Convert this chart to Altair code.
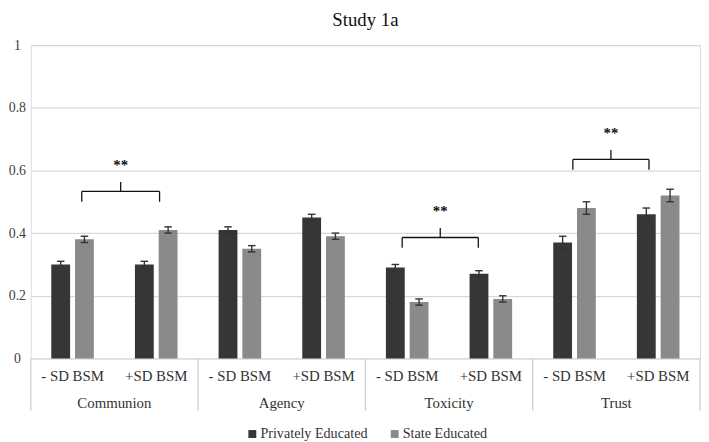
import altair as alt
import pandas as pd

categories = ["Communion", "Agency", "Toxicity", "Trust"]
levels = ["- SD BSM", "+SD BSM"]
series = ["Privately Educated", "State Educated"]
private_vals = [0.30, 0.30, 0.41, 0.45, 0.29, 0.27, 0.37, 0.46]
state_vals = [0.38, 0.41, 0.35, 0.39, 0.18, 0.19, 0.48, 0.52]
private_err = [0.01, 0.01, 0.01, 0.01, 0.01, 0.01, 0.02, 0.02]
state_err = [0.01, 0.01, 0.01, 0.01, 0.01, 0.01, 0.02, 0.02]
y_ticks = [0, 0.2, 0.4, 0.6, 0.8, 1]

# significance brackets (in sub-category slot units along x, value units along y)
bracket_from = [0.61, 4.44, 6.48]
bracket_to = [1.54, 5.35, 7.39]
bracket_level = [0.533, 0.386, 0.635]
bracket_label = ["**", "**", "**"]

FONT = "Liberation Serif, Times New Roman, DejaVu Serif, serif"
DARK = "#363636"
LIGHT = "#8a8a8a"
W, H = 677, 317

rows = []
for i in range(8):
    for s_idx, (vals, errs) in enumerate([(private_vals, private_err), (state_vals, state_err)]):
        rows.append({
            "category": categories[i // 2],
            "level": levels[i % 2],
            "slot": i,
            "side": -1 if s_idx == 0 else 1,
            "series": series[s_idx],
            "value": vals[i],
            "err": errs[i],
        })
df = pd.DataFrame(rows)

slot_df = pd.DataFrame({"slot": list(range(8)), "level": [levels[i % 2] for i in range(8)]})
cat_df = pd.DataFrame({"k": list(range(4)), "category": categories})
sep_df = pd.DataFrame({"edge": [0, 2, 4, 6, 8]})
br_df = pd.DataFrame({"x1": bracket_from, "x2": bracket_to, "lvl": bracket_level, "label": bracket_label})

xscale = alt.Scale(domain=[0, 8], nice=False, zero=False)
yscale = alt.Scale(domain=[0, 1], nice=False)

base = alt.Chart(df).transform_calculate(
    xc="datum.slot + 0.5 + datum.side * 0.142",
    xl="datum.slot + 0.5 + datum.side * 0.142 - 0.1125",
    xr="datum.slot + 0.5 + datum.side * 0.142 + 0.1125",
    lo="datum.value - datum.err",
    hi="datum.value + datum.err",
    cl="datum.slot + 0.5 + datum.side * 0.142 - 0.045",
    cr="datum.slot + 0.5 + datum.side * 0.142 + 0.045",
    zero="0",
)

bars = base.mark_bar().encode(
    x=alt.X("xl:Q", scale=xscale, axis=None),
    x2="xr:Q",
    y=alt.Y("value:Q", scale=yscale, axis=alt.Axis(
        values=y_ticks, format="~g", grid=True, gridColor="#d9d9d9", gridWidth=1.3,
        domain=False, ticks=False, labelFont=FONT, labelFontSize=14, labelColor="#404040",
        labelAlign="center", labelPadding=14, title=None)),
    y2="zero:Q",
    color=alt.Color("series:N", scale=alt.Scale(domain=series, range=[DARK, LIGHT]),
                    legend=alt.Legend(orient="none", legendX=217, legendY=386, direction="horizontal",
                                      title=None, symbolType="square", symbolSize=64,
                                      symbolStrokeWidth=0, labelFont=FONT, labelFontSize=14.3,
                                      labelColor="#333333", labelOffset=1, columnPadding=20,
                                      padding=0)),
)

err_v = base.mark_rule(color="#333333", strokeWidth=1.4).encode(
    x="xc:Q", y="lo:Q", y2="hi:Q")
cap_hi = base.mark_rule(color="#333333", strokeWidth=1.4).encode(
    x="cl:Q", x2="cr:Q", y="hi:Q")
cap_lo = base.mark_rule(color="#333333", strokeWidth=1.4).encode(
    x="cl:Q", x2="cr:Q", y="lo:Q")

sub_labels = alt.Chart(slot_df).transform_calculate(xm="datum.slot + 0.5").mark_text(
    font=FONT, fontSize=15, color="#333333", baseline="middle").encode(
    x="xm:Q", y=alt.value(H + 18), text="level:N")

cat_labels = alt.Chart(cat_df).transform_calculate(xm="datum.k * 2 + 1").mark_text(
    font=FONT, fontSize=15, color="#333333", baseline="middle").encode(
    x="xm:Q", y=alt.value(H + 45), text="category:N")

seps = alt.Chart(sep_df).mark_rule(color="#cfcfcf", strokeWidth=1.3).encode(
    x="edge:Q", y=alt.value(H), y2=alt.value(H + 53))

br = alt.Chart(br_df).transform_calculate(
    xm="(datum.x1 + datum.x2) / 2",
    foot="datum.lvl - 0.033",
    tip="datum.lvl + 0.03",
    star="datum.lvl + 0.085",
)
br_h = br.mark_rule(color="#111111", strokeWidth=1.3).encode(x="x1:Q", x2="x2:Q", y="lvl:Q")
br_l = br.mark_rule(color="#111111", strokeWidth=1.3).encode(x="x1:Q", y="foot:Q", y2="lvl:Q")
br_r = br.mark_rule(color="#111111", strokeWidth=1.3).encode(x="x2:Q", y="foot:Q", y2="lvl:Q")
br_t = br.mark_rule(color="#111111", strokeWidth=1.3).encode(x="xm:Q", y="lvl:Q", y2="tip:Q")
br_s = br.mark_text(font=FONT, fontSize=15, fontWeight="bold", color="#111111",
                    baseline="middle").encode(x="xm:Q", y="star:Q", text="label:N")

chart = alt.layer(
    bars, err_v, cap_hi, cap_lo, sub_labels, cat_labels, seps,
    br_h, br_l, br_r, br_t, br_s
).properties(
    width=W, height=H,
    title=alt.Title("Study 1a", font=FONT, fontSize=19, fontWeight="normal", color="#111111",
                    anchor="middle", offset=8),
    autosize=alt.AutoSizeParams(type="none"),
    padding={"left": 23, "top": 35, "right": 1, "bottom": 82},
).configure_view(stroke=None).configure(background="white")

chart.save("out.html", embed_options={"renderer": "svg", "actions": False})
